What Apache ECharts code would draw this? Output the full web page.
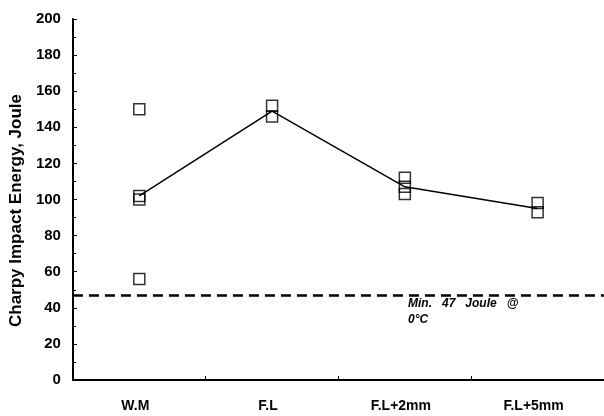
<!DOCTYPE html>
<html>
<head>
<meta charset="utf-8">
<script src="https://cdn.jsdelivr.net/npm/echarts@6/dist/echarts.min.js"></script>
<style>
  html, body { margin: 0; padding: 0; background: #fff; }
  #chart { width: 604px; height: 416px; }
</style>
</head>
<body>
<div id="chart"></div>
<script>
const categories = ['W.M', 'F.L', 'F.L+2mm', 'F.L+5mm'];
// individual test values (hollow squares)
const testPoints = [
  ['W.M', 150], ['W.M', 102], ['W.M', 100], ['W.M', 56],
  ['F.L', 152], ['F.L', 146],
  ['F.L+2mm', 112], ['F.L+2mm', 107], ['F.L+2mm', 103],
  ['F.L+5mm', 98], ['F.L+5mm', 93]
];
// average line
const averages = [102, 149, 107, 95];
const minEnergy = 47;
const yTicks = [0, 200, 20];

const font = 'Liberation Sans, Arial, sans-serif';
const chart = echarts.init(document.getElementById('chart'));

chart.setOption({
  animation: false,
  backgroundColor: '#fff',
  grid: { left: 72, right: 0, top: 19, bottom: 36 },
  xAxis: {
    type: 'category',
    data: categories,
    axisLine: { lineStyle: { color: '#000', width: 2 } },
    axisTick: { show: true, inside: true, length: 4, lineStyle: { color: '#000' } },
    axisLabel: {
      color: '#000', fontFamily: font, fontWeight: 'bold', fontSize: 14,
      margin: 19, padding: [0, 8, 0, 0]
    }
  },
  yAxis: {
    type: 'value',
    min: yTicks[0],
    max: yTicks[1],
    interval: yTicks[2],
    name: 'Charpy Impact Energy, Joule',
    nameLocation: 'middle',
    nameGap: 43,
    nameTextStyle: {
      color: '#000', fontFamily: font, fontWeight: 'bold', fontSize: 17,
      padding: [0, 22, 0, 0]
    },
    axisLine: { show: true, lineStyle: { color: '#000', width: 2 } },
    axisTick: { show: true, inside: true, length: 4, lineStyle: { color: '#000' } },
    minorTick: { show: true, splitNumber: 2, length: 3, lineStyle: { color: '#000' } },
    splitLine: { show: false },
    axisLabel: { color: '#000', fontFamily: font, fontWeight: 'bold', fontSize: 15, margin: 12 }
  },
  series: [
    {
      type: 'line',
      data: averages,
      symbol: 'none',
      lineStyle: { color: '#000', width: 1.5 },
      markLine: {
        silent: true,
        symbol: 'none',
        data: [{ yAxis: minEnergy }],
        lineStyle: { color: '#000', type: [10, 6], width: 2.5 },
        label: { show: false }
      }
    },
    {
      type: 'scatter',
      data: testPoints,
      symbol: 'rect',
      symbolSize: 11,
      itemStyle: { color: 'rgba(255,255,255,0)', borderColor: '#000', borderWidth: 1.5 }
    }
  ],
  graphic: [
    {
      type: 'text',
      left: 408,
      top: 296,
      style: {
        text: 'Min.   47   Joule   @\n0°C',
        fill: '#000',
        font: 'italic bold 12px ' + font,
        lineHeight: 16
      }
    }
  ]
});
</script>
</body>
</html>
